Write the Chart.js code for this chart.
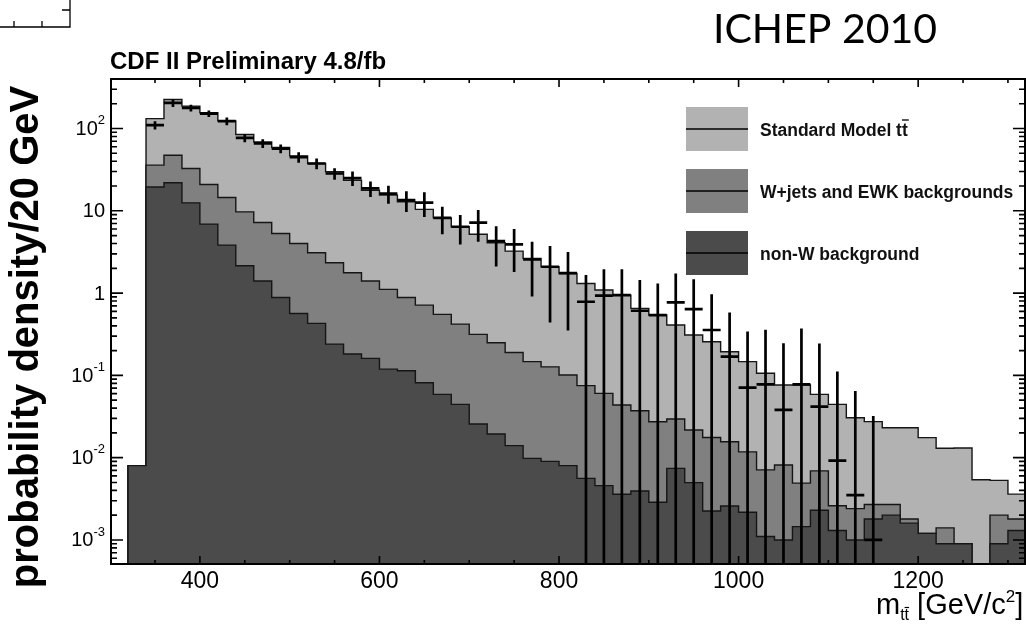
<!DOCTYPE html>
<html>
<head>
<meta charset="utf-8">
<script src="https://cdn.jsdelivr.net/npm/chart.js@4/dist/chart.umd.min.js"></script>
<style>
  html, body { margin: 0; padding: 0; background: #fff; }
  canvas { display: block; }
</style>
</head>
<body>
<canvas id="mttChart" width="1026" height="625"></canvas>
<script>
// low edge of each 20 GeV bin
const binEdges = [320, 340, 360, 380, 400, 420, 440, 460, 480, 500,
                  520, 540, 560, 580, 600, 620, 640, 660, 680, 700,
                  720, 740, 760, 780, 800, 820, 840, 860, 880, 900,
                  920, 940, 960, 980, 1000, 1020, 1040, 1060, 1080, 1100,
                  1120, 1140, 1160, 1180, 1200, 1220, 1240, 1260, 1280, 1300];
const BIN_W = 20;

// stacked contributions per bin
const nonW = [0.008, 19.5, 21.9, 12.5, 6.9, 3.83, 2.15, 1.40, 0.885, 0.566,
              0.428, 0.24, 0.182, 0.161, 0.119, 0.114, 0.0815, 0.0588, 0.0444, 0.0256,
              0.0194, 0.014, 0.0098, 0.009, 0.008, 0.0056, 0.00457, 0.00359, 0.00394, 0.00287,
              0.00741, 0.00497, 0.00225, 0.00259, 0.00217, 0.0011, 0.001, 0.00145, 0.0023, 0.0013,
              0.001, 0.0018, 0.002, 0.0016, 0.0012, 0.0009, 0.0009, 0, 0.0009, 0.0013];
const wjets = [0, 16.4, 25.5, 20.2, 14.0, 10.67, 7.57, 5.8, 4.415, 3.434,
               2.662, 2.10, 1.588, 1.239, 0.991, 0.771, 0.6325, 0.4922, 0.3756, 0.2894,
               0.2296, 0.176, 0.1372, 0.118, 0.093, 0.0694, 0.0558, 0.04, 0.0333, 0.0245,
               0.0221, 0.0167, 0.0153, 0.013, 0.0096, 0.006, 0.00715, 0.00345, 0.0046, 0.0013,
               0.0014, 0.0009, 0.0007, 0.0002, 0, 0.0005, 0, 0, 0.0011, 0.0005];
const ttbar = [0, 96.1, 177.6, 154.3, 135.1, 109.5, 74.9, 61.7, 53.5, 42.5,
               34.5, 27.46, 21.73, 16.4, 14.39, 12.015, 9.686, 7.649, 5.98, 4.885,
               3.851, 3.05, 2.493, 1.963, 1.629, 1.235, 1.0296, 0.9024, 0.6148, 0.5136,
               0.3795, 0.2873, 0.2385, 0.1784, 0.1352, 0.0989, 0.0682, 0.0714, 0.0519, 0.0418,
               0.0282, 0.0247, 0.0204, 0.0213, 0.0163, 0.0116, 0.0122, 0.0054, 0.0033, 0.0018];

// data points (bin centre, value, symmetric error)
const dataMass = [350, 370, 390, 410, 430, 450, 470, 490, 510, 530,
                  550, 570, 590, 610, 630, 650, 670, 690, 710, 730,
                  750, 770, 790, 810, 830, 850, 870, 890, 910, 930,
                  950, 970, 990, 1010, 1030, 1050, 1070, 1090, 1110, 1130, 1150];
const dataVal = [110, 205, 178, 152, 123, 77, 66, 57, 45, 37.6,
                 28.4, 25, 18.7, 16.2, 13.5, 12.6, 8.2, 6.4, 7.2, 4.3,
                 3.9, 2.56, 2.09, 1.75, 0.785, 0.93, 0.946, 0.61, 0.54, 0.771,
                 0.64, 0.356, 0.169, 0.0708, 0.0778, 0.038, 0.0778, 0.0416, 0.0092, 0.0035, 0.001];
const dataErr = [12.5, 22, 17, 14, 13, 9, 8, 7, 6.5, 5.5,
                 4.5, 5, 4, 4, 3.8, 4.2, 3, 2.5, 3, 2.2,
                 2.1, 1.65, 1.65, 1.4, 0.88, 1.02, 1.0, 0.83, 0.77, 0.96,
                 0.83, 0.61, 0.41, 0.27, 0.28, 0.207, 0.294, 0.203, 0.102, 0.061, 0.031];

const xTicksMajor = [400, 600, 800, 1000, 1200];
const xTicksMinor = [350, 450, 500, 550, 650, 700, 750, 850, 900, 950, 1050, 1100, 1150, 1250, 1300];
const yTicks = [0.001, 0.01, 0.1, 1, 10, 100];
const yTickLabels = ['10^-3', '10^-2', '10^-1', '1', '10', '10^2'];

const legendLabels = ['Standard Model tt', 'W+jets and EWK backgrounds', 'non-W background'];
const fillColors = ['#b2b2b2', '#808080', '#4b4b4b'];

const FONT = "'Liberation Sans', Arial, Helvetica, sans-serif";
const FLOOR = 1e-6;

const topNonW = nonW.slice();
const topW = nonW.map((v, i) => v + wjets[i]);
const topTT = topW.map((v, i) => v + ttbar[i]);

function stepPoints(tops) {
    const pts = [{ x: binEdges[0], y: FLOOR }];
    tops.forEach((v, i) => pts.push({ x: binEdges[i], y: Math.max(v, FLOOR) }));
    pts.push({ x: binEdges[binEdges.length - 1] + BIN_W, y: Math.max(tops[tops.length - 1], FLOOR) });
    return pts;
}

function histSet(label, tops, color) {
    return {
        label: label,
        data: stepPoints(tops),
        stepped: true,
        fill: 'start',
        backgroundColor: color,
        borderColor: '#161616',
        borderWidth: 1.4,
        pointRadius: 0,
        borderJoinStyle: 'miter'
    };
}

const decor = {
    id: 'decor',
    afterDatasetsDraw(chart) {
        const ctx = chart.ctx, a = chart.chartArea;
        const xs = chart.scales.x, ys = chart.scales.y;
        ctx.save();
        ctx.beginPath();
        ctx.rect(a.left, a.top, a.right - a.left, a.bottom - a.top);
        ctx.clip();
        ctx.strokeStyle = '#000';
        ctx.lineWidth = 2.7;
        dataMass.forEach((m, i) => {
            const v = dataVal[i], e = dataErr[i];
            const px = xs.getPixelForValue(m);
            const py = ys.getPixelForValue(v);
            const hi = ys.getPixelForValue(v + e);
            const lo = v - e > 0 ? ys.getPixelForValue(v - e) : a.bottom + 5;
            ctx.beginPath();
            ctx.moveTo(xs.getPixelForValue(m - BIN_W / 2), py);
            ctx.lineTo(xs.getPixelForValue(m + BIN_W / 2), py);
            ctx.moveTo(px, hi);
            ctx.lineTo(px, lo);
            ctx.stroke();
        });
        ctx.restore();
    },
    afterDraw(chart) {
        const ctx = chart.ctx, a = chart.chartArea;
        const xs = chart.scales.x, ys = chart.scales.y;
        ctx.save();
        ctx.strokeStyle = '#000';
        ctx.fillStyle = '#000';

        // frame
        ctx.lineWidth = 2;
        ctx.strokeRect(a.left, a.top, a.right - a.left, a.bottom - a.top);

        // x ticks, inward on bottom and top
        ctx.lineWidth = 1.6;
        ctx.beginPath();
        xTicksMajor.forEach(v => {
            const px = xs.getPixelForValue(v);
            ctx.moveTo(px, a.bottom); ctx.lineTo(px, a.bottom - 8);
            ctx.moveTo(px, a.top); ctx.lineTo(px, a.top + 8);
        });
        xTicksMinor.forEach(v => {
            const px = xs.getPixelForValue(v);
            ctx.moveTo(px, a.bottom); ctx.lineTo(px, a.bottom - 4);
            ctx.moveTo(px, a.top); ctx.lineTo(px, a.top + 4);
        });
        // y ticks, log decades and minors
        for (let k = -4; k <= 2; k++) {
            for (let d = 1; d <= 9; d++) {
                const v = d * Math.pow(10, k);
                if (v <= ys.min || v >= ys.max) continue;
                const py = ys.getPixelForValue(v);
                const len = d === 1 ? 12 : 6;
                ctx.moveTo(a.left, py); ctx.lineTo(a.left + len, py);
                ctx.moveTo(a.right, py); ctx.lineTo(a.right - len, py);
            }
        }
        ctx.stroke();

        // x tick labels
        ctx.font = '23px ' + FONT;
        ctx.textAlign = 'center';
        ctx.textBaseline = 'alphabetic';
        xTicksMajor.forEach(v => ctx.fillText(String(v), xs.getPixelForValue(v), 588));

        // y tick labels with exponent
        yTicks.forEach((v, i) => {
            const parts = yTickLabels[i].split('^');
            const py = ys.getPixelForValue(v);
            const right = 105;
            ctx.textAlign = 'left';
            ctx.textBaseline = 'middle';
            ctx.font = '20px ' + FONT;
            const wb = ctx.measureText(parts[0]).width;
            let we = 0;
            if (parts[1]) {
                ctx.font = '13px ' + FONT;
                we = ctx.measureText(parts[1]).width;
                ctx.fillText(parts[1], right - we, py - 8);
            }
            ctx.font = '20px ' + FONT;
            ctx.fillText(parts[0], right - we - wb, py + 1);
        });

        // y axis title
        ctx.save();
        ctx.translate(38, 337);
        ctx.rotate(-Math.PI / 2);
        ctx.font = 'bold 40px ' + FONT;
        ctx.textAlign = 'center';
        ctx.textBaseline = 'alphabetic';
        ctx.fillText('probability density/20 GeV', 0, 0);
        ctx.restore();

        // x axis title  m_tt [GeV/c^2]
        ctx.textAlign = 'left';
        ctx.textBaseline = 'alphabetic';
        let x = 876;
        const base = 614;
        ctx.font = '29px ' + FONT;
        ctx.fillText('m', x, base);
        x += ctx.measureText('m').width;
        ctx.font = '16px ' + FONT;
        const wt = ctx.measureText('t').width;
        ctx.fillText('tt', x, base + 6);
        ctx.lineWidth = 1.2;
        ctx.beginPath();
        ctx.moveTo(x + wt, base + 6 - 12.5); ctx.lineTo(x + 2 * wt, base + 6 - 12.5);
        ctx.stroke();
        x += 2 * wt;
        ctx.font = '29px ' + FONT;
        ctx.fillText(' [GeV/c', x, base);
        x += ctx.measureText(' [GeV/c').width;
        ctx.font = '17px ' + FONT;
        ctx.fillText('2', x, base - 12);
        x += ctx.measureText('2').width;
        ctx.font = '29px ' + FONT;
        ctx.fillText(']', x, base);

        // plot title
        ctx.font = 'bold 24px ' + FONT;
        ctx.fillText('CDF II Preliminary 4.8/fb', 110, 69);

        // slide label
        ctx.font = "41px Lato, 'Open Sans', sans-serif";
        ctx.fillText('ICHEP 2010', 713, 43);

        // legend
        legendLabels.forEach((lab, k) => {
            const y0 = 107 + k * 62;
            ctx.fillStyle = fillColors[k];
            ctx.fillRect(686, y0, 62, 44);
            ctx.strokeStyle = '#000';
            ctx.lineWidth = 1.5;
            ctx.beginPath();
            ctx.moveTo(686, y0 + 22); ctx.lineTo(748, y0 + 22);
            ctx.stroke();
            ctx.fillStyle = '#111';
            ctx.font = 'bold 17.5px ' + FONT;
            ctx.textBaseline = 'middle';
            ctx.fillText(lab, 760, y0 + 24);
            if (k === 0) {
                const wAll = ctx.measureText(lab).width;
                const wT = ctx.measureText('t').width;
                ctx.lineWidth = 1.3;
                ctx.beginPath();
                ctx.moveTo(760 + wAll - wT, y0 + 13); ctx.lineTo(760 + wAll + 1, y0 + 13);
                ctx.stroke();
            }
        });

        // fragment of a neighbouring frame, top left
        ctx.strokeStyle = '#000';
        ctx.lineWidth = 1.3;
        ctx.beginPath();
        ctx.moveTo(0, 27); ctx.lineTo(70, 27); ctx.lineTo(70, 0);
        ctx.moveTo(14, 27); ctx.lineTo(14, 21);
        ctx.moveTo(42, 27); ctx.lineTo(42, 21);
        ctx.moveTo(70, 10); ctx.lineTo(62, 10);
        ctx.stroke();

        ctx.restore();
    }
};

new Chart(document.getElementById('mttChart'), {
    type: 'line',
    data: {
        datasets: [
            histSet(legendLabels[2], topNonW, fillColors[2]),
            histSet(legendLabels[1], topW, fillColors[1]),
            histSet(legendLabels[0], topTT, fillColors[0])
        ]
    },
    options: {
        responsive: false,
        animation: false,
        layout: { padding: { left: 111, top: 79, right: 1, bottom: 61 } },
        plugins: {
            legend: { display: false },
            title: { display: false },
            tooltip: { enabled: false }
        },
        scales: {
            x: { type: 'linear', min: 301, max: 1319, display: false },
            y: { type: 'logarithmic', min: 5.1e-4, max: 400, display: false }
        }
    },
    plugins: [decor]
});
</script>
</body>
</html>
